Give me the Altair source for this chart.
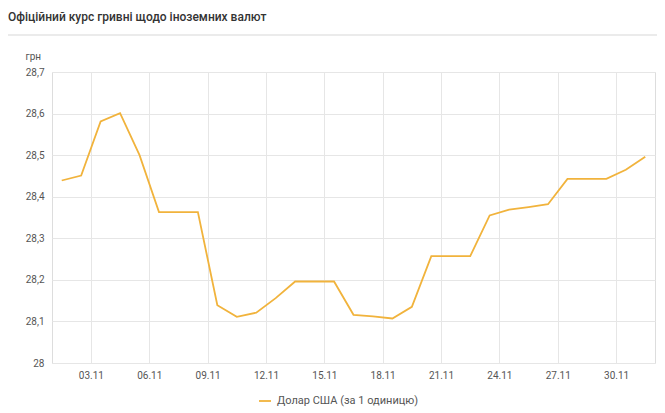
import altair as alt
import pandas as pd

dates = [
    "2020-11-01", "2020-11-02", "2020-11-03", "2020-11-04", "2020-11-05",
    "2020-11-06", "2020-11-07", "2020-11-08", "2020-11-09", "2020-11-10",
    "2020-11-11", "2020-11-12", "2020-11-13", "2020-11-14", "2020-11-15",
    "2020-11-16", "2020-11-17", "2020-11-18", "2020-11-19", "2020-11-20",
    "2020-11-21", "2020-11-22", "2020-11-23", "2020-11-24", "2020-11-25",
    "2020-11-26", "2020-11-27", "2020-11-28", "2020-11-29", "2020-11-30",
    "2020-12-01",
]
values = [
    28.439, 28.451, 28.581, 28.601, 28.500,
    28.363, 28.363, 28.363, 28.139, 28.111,
    28.121, 28.156, 28.196, 28.196, 28.196,
    28.116, 28.112, 28.107, 28.135, 28.257,
    28.257, 28.257, 28.355, 28.369, 28.375,
    28.382, 28.443, 28.443, 28.443, 28.465,
    28.496,
]
series_name = "Долар США (за 1 одиницю)"
tick_dates = ["2020-11-03", "2020-11-06", "2020-11-09", "2020-11-12", "2020-11-15",
              "2020-11-18", "2020-11-21", "2020-11-24", "2020-11-27", "2020-11-30"]
title_text = "Офіційний курс гривні щодо іноземних валют"
y_unit = "грн"

df = pd.DataFrame({
    "date": [d + "T12:00:00" for d in dates],
    "value": values,
    "series": [series_name] * len(values),
})

FONT = "Roboto"
W, H = 603, 291

x_axis = alt.Axis(
    values=[alt.DateTime(year=int(t[:4]), month=int(t[5:7]), date=int(t[8:10])) for t in tick_dates],
    format="%d.%m", title=None, grid=True, gridColor="#e6e6e6", domain=False, ticks=False,
    labelFont=FONT, labelFontSize=10, labelColor="#555", labelPadding=7,
)
y_axis = alt.Axis(
    values=[28.0, 28.1, 28.2, 28.3, 28.4, 28.5, 28.6, 28.7],
    labelExpr="replace(format(datum.value, '.1~f'), '.', ',')",
    grid=True, gridColor="#e6e6e6", domain=False, ticks=False,
    labelFont=FONT, labelFontSize=10, labelColor="#555", labelPadding=8,
    title=y_unit, titleAngle=0, titleX=-27, titleY=-13, titleAlign="left",
    titleBaseline="alphabetic", titleFont=FONT, titleFontSize=10,
    titleFontWeight="normal", titleColor="#555",
)

line = alt.Chart(df).mark_line(strokeWidth=1.8).encode(
    x=alt.X("date:T", axis=x_axis,
            scale=alt.Scale(domain=[alt.DateTime(year=2020, month=11, date=1),
                                    alt.DateTime(year=2020, month=12, date=2)])),
    y=alt.Y("value:Q", axis=y_axis, scale=alt.Scale(domain=[28, 28.7], nice=False, zero=False)),
    color=alt.Color("series:N", scale=alt.Scale(range=["#f1b33c"]),
                    legend=alt.Legend(title=None, orient="none", legendX=206, legendY=322,
                                      symbolType="stroke", symbolSize=144, symbolStrokeWidth=1.8,
                                      labelFont=FONT, labelFontSize=11, labelColor="#555",
                                      labelOffset=5)),
)

title_df = pd.DataFrame({"t": [title_text]})
title = alt.Chart(title_df).mark_text(
    align="left", baseline="alphabetic", font=FONT, fontSize=12, fontWeight=500, color="#333"
).encode(text="t:N", x=alt.value(-44), y=alt.value(-51))

sep = alt.Chart(title_df).mark_rule(color="#e4e4e4", strokeWidth=1.5).encode(
    x=alt.value(-44), x2=alt.value(W + 2), y=alt.value(-37)
)

chart = alt.layer(sep, title, line).properties(
    width=W, height=H,
    autosize=alt.AutoSizeParams(type="none"),
    padding={"left": 44, "top": 64, "right": 2, "bottom": 47},
).configure_view(stroke=None).configure(background="white")

chart.save("out.html", embed_options={"renderer": "svg", "actions": False})
